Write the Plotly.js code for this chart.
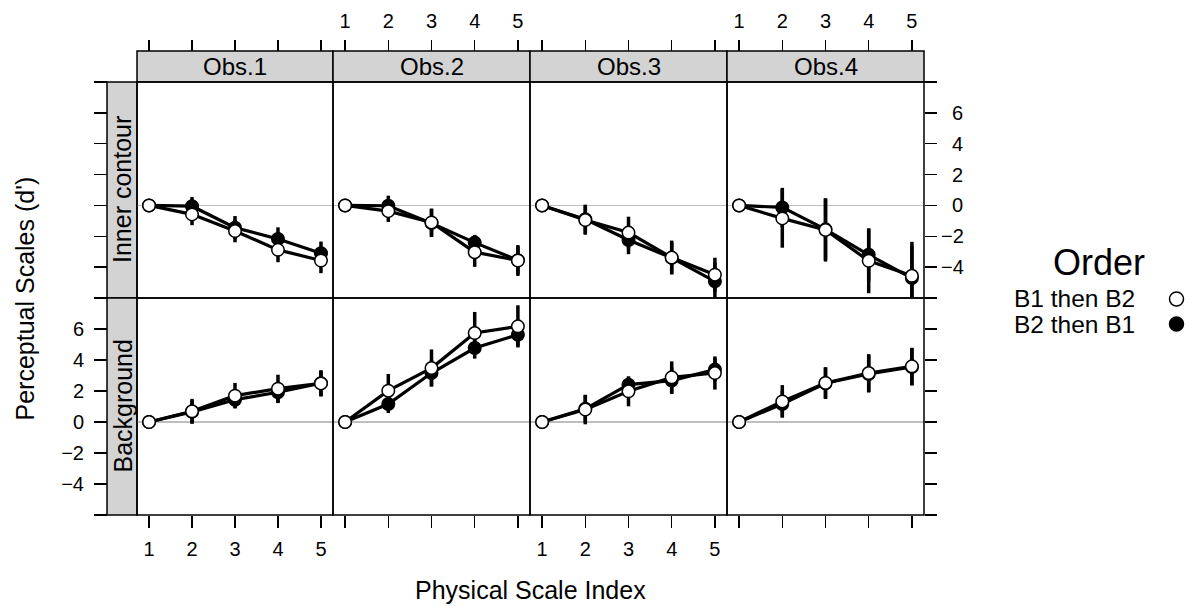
<!DOCTYPE html>
<html><head><meta charset="utf-8">
<script src="https://cdn.plot.ly/plotly-3.0.1.min.js"></script>
<style>html,body{margin:0;padding:0;background:#fff}</style>
</head><body><div id="chart" style="width:1192px;height:606px"></div>
<script>
// ---------- data ----------
const observers = ['Obs.1', 'Obs.2', 'Obs.3', 'Obs.4'];
const conditions = ['Inner contour', 'Background'];
const scaleIndex = [1, 2, 3, 4, 5];
const orderLabels = ['B1 then B2', 'B2 then B1'];
const legendTitle = 'Order';
const xTitle = 'Physical Scale Index';
const yTitle = "Perceptual Scales (d')";
const xTickVals = [1, 2, 3, 4, 5];
const xTickText = ['1', '2', '3', '4', '5'];
const yTickVals = [-6, -4, -2, 0, 2, 4, 6, 8];
const yTickText = ['', '\u22124', '\u22122', '0', '2', '4', '6', ''];
// right-hand labels are right-justified (figure space pads the positive ones)
const yTickTextRight = ['', '\u22124', '\u22122', '\u20070', '\u20072', '\u20074', '\u20076', ''];

// Inner contour, B1 then B2 (open), one row per observer
const innerB1B2 = [
  [0, -0.58, -1.66, -2.88, -3.57],
  [0, -0.37, -1.10, -3.03, -3.57],
  [0, -0.95, -1.76, -3.38, -4.49],
  [0, -0.84, -1.59, -3.59, -4.56]
];
const innerB1B2Err = [
  [0, 0.70, 0.73, 0.80, 0.82],
  [0, 0.70, 0.90, 0.95, 1.00],
  [0, 0.95, 1.03, 1.10, 1.10],
  [0, 1.90, 2.05, 2.10, 2.20]
];
// Inner contour, B2 then B1 (filled)
const innerB2B1 = [
  [0, -0.05, -1.44, -2.17, -3.10],
  [0, -0.02, -1.15, -2.41, -3.55],
  [0, -0.90, -2.24, -3.40, -4.92],
  [0, -0.13, -1.55, -3.20, -4.71]
];
const innerB2B1Err = [
  [0, 0.60, 0.75, 0.75, 0.76],
  [0, 0.65, 0.90, 0.50, 0.90],
  [0, 0.95, 0.92, 1.00, 1.20],
  [0, 1.27, 2.00, 1.70, 2.10]
];
// Background, B1 then B2 (open)
const bgB1B2 = [
  [0, 0.69, 1.70, 2.15, 2.49],
  [0, 2.02, 3.48, 5.74, 6.17],
  [0, 0.80, 1.98, 2.88, 3.16],
  [0, 1.33, 2.52, 3.16, 3.59]
];
const bgB1B2Err = [
  [0, 0.80, 0.82, 0.90, 0.85],
  [0, 1.08, 1.20, 1.36, 1.36],
  [0, 0.95, 0.97, 1.03, 1.07],
  [0, 1.05, 1.02, 1.22, 1.20]
];
// Background, B2 then B1 (filled)
const bgB2B1 = [
  [0, 0.65, 1.44, 1.92, 2.50],
  [0, 1.16, 3.16, 4.77, 5.63],
  [0, 0.85, 2.41, 2.67, 3.38],
  [0, 1.16, 2.50, 3.10, 3.55]
];
const bgB2B1Err = [
  [0, 0.75, 0.55, 0.70, 0.80],
  [0, 0.58, 0.85, 0.68, 0.75],
  [0, 0.90, 0.45, 0.86, 0.75],
  [0, 0.85, 1.00, 1.20, 1.20]
];

// ---------- geometry / style ----------
const W = 1192, H = 606;
const colEdges = [137, 333, 530, 727, 924];
const rowEdges = [82, 298, 515];
const stripTop = 51, stripLeft = 107;
const FONT = 'Liberation Sans, Arial, Helvetica, sans-serif';
const TICKFONT = { family: FONT, size: 20, color: '#000' };
const px = v => v / W;
const py = v => 1 - v / H;

const seriesByRow = [
  { open: innerB1B2, openErr: innerB1B2Err, filled: innerB2B1, filledErr: innerB2B1Err },
  { open: bgB1B2, openErr: bgB1B2Err, filled: bgB2B1, filledErr: bgB2B1Err }
];

const traces = [];
const layout = {
  width: W, height: H, autosize: false,
  margin: { l: 0, r: 0, t: 0, b: 0, pad: 0 },
  paper_bgcolor: '#fff', plot_bgcolor: 'rgba(0,0,0,0)',
  showlegend: false,
  font: { family: FONT, size: 20, color: '#000' },
  shapes: [], annotations: []
};

function makeTrace(xa, ya, y, err, fill) {
  return {
    type: 'scatter', mode: 'lines+markers', xaxis: xa, yaxis: ya,
    x: scaleIndex, y: y,
    line: { color: '#000', width: 3.2 },
    marker: { symbol: 'circle', size: 12.5, color: fill, line: { color: '#000', width: 1.5 } },
    error_y: { type: 'data', array: err, visible: true, color: '#000', thickness: 3.5, width: 0 },
    hoverinfo: 'skip', showlegend: false
  };
}

for (let r = 0; r < 2; r++) {
  for (let c = 0; c < 4; c++) {
    const n = r * 4 + c + 1;
    const xa = n === 1 ? 'x' : 'x' + n;
    const ya = n === 1 ? 'y' : 'y' + n;
    const xKey = n === 1 ? 'xaxis' : 'xaxis' + n;
    const yKey = n === 1 ? 'yaxis' : 'yaxis' + n;
    const s = seriesByRow[r];
    traces.push(makeTrace(xa, ya, s.filled[c], s.filledErr[c], '#000'));
    traces.push(makeTrace(xa, ya, s.open[c], s.openErr[c], '#fff'));

    const xAxis = {
      domain: [px(colEdges[c]), px(colEdges[c + 1])],
      range: [0.72, 5.28], fixedrange: true,
      tickmode: 'array', tickvals: xTickVals, ticktext: xTickText,
      ticks: 'outside', ticklen: 12, tickwidth: 1.5, tickcolor: '#000',
      showline: false, showgrid: false, zeroline: false,
      tickfont: TICKFONT, ticklabelstandoff: 4
    };
    if (r === 0) {
      xAxis.anchor = 'free'; xAxis.position = py(stripTop); xAxis.side = 'top';
      xAxis.ticklen = 11;
      xAxis.showticklabels = (c === 1 || c === 3);
    } else {
      xAxis.anchor = ya; xAxis.side = 'bottom';
      xAxis.showticklabels = (c === 0 || c === 2);
    }
    layout[xKey] = xAxis;

    const yAxis = {
      domain: [py(rowEdges[r + 1]), py(rowEdges[r])],
      range: [-6, 8], fixedrange: true,
      tickmode: 'array', tickvals: yTickVals, ticktext: yTickText,
      showline: false, showgrid: false,
      zeroline: true, zerolinecolor: '#bebebe', zerolinewidth: 1.5,
      tickfont: TICKFONT
    };
    if (c === 0) {
      Object.assign(yAxis, { anchor: 'free', position: px(stripLeft), side: 'left',
        ticks: 'outside', ticklen: 13, tickwidth: 1.5, tickcolor: '#000',
        ticklabelstandoff: 6, showticklabels: r === 1 });
    } else if (c === 3) {
      Object.assign(yAxis, { anchor: 'free', position: px(colEdges[4]), side: 'right',
        ticks: 'outside', ticklen: 12, tickwidth: 1.5, tickcolor: '#000',
        ticktext: yTickTextRight, ticklabelstandoff: 0, showticklabels: r === 0 });
    } else {
      Object.assign(yAxis, { anchor: xa, ticks: '', showticklabels: false });
    }
    layout[yKey] = yAxis;

    // panel border
    layout.shapes.push({ type: 'rect', xref: 'paper', yref: 'paper', layer: 'above',
      x0: px(colEdges[c]), x1: px(colEdges[c + 1]), y0: py(rowEdges[r + 1]), y1: py(rowEdges[r]),
      line: { color: '#000', width: 1.5 }, fillcolor: 'rgba(0,0,0,0)' });
  }
}

// top strips
for (let c = 0; c < 4; c++) {
  layout.shapes.push({ type: 'rect', xref: 'paper', yref: 'paper', layer: 'below',
    x0: px(colEdges[c]), x1: px(colEdges[c + 1]), y0: py(rowEdges[0]), y1: py(stripTop),
    line: { color: '#000', width: 1.5 }, fillcolor: '#d3d3d3' });
  layout.annotations.push({ xref: 'paper', yref: 'paper', showarrow: false,
    x: px((colEdges[c] + colEdges[c + 1]) / 2), y: py((stripTop + rowEdges[0]) / 2),
    xanchor: 'center', yanchor: 'middle', text: observers[c],
    font: { family: FONT, size: 24, color: '#000' } });
}
// left strips
for (let r = 0; r < 2; r++) {
  layout.shapes.push({ type: 'rect', xref: 'paper', yref: 'paper', layer: 'below',
    x0: px(stripLeft), x1: px(colEdges[0]), y0: py(rowEdges[r + 1]), y1: py(rowEdges[r]),
    line: { color: '#000', width: 1.5 }, fillcolor: '#d3d3d3' });
  layout.annotations.push({ xref: 'paper', yref: 'paper', showarrow: false,
    x: px((stripLeft + colEdges[0]) / 2), y: py((rowEdges[r] + rowEdges[r + 1]) / 2),
    xanchor: 'center', yanchor: 'middle', textangle: -90, text: conditions[r],
    font: { family: FONT, size: 25, color: '#000' } });
}
// axis titles
layout.annotations.push({ xref: 'paper', yref: 'paper', showarrow: false,
  x: px((colEdges[0] + colEdges[4]) / 2), y: py(590), xanchor: 'center', yanchor: 'middle',
  text: xTitle, font: { family: FONT, size: 25, color: '#000' } });
layout.annotations.push({ xref: 'paper', yref: 'paper', showarrow: false,
  x: px(24), y: py((rowEdges[0] + rowEdges[2]) / 2), xanchor: 'center', yanchor: 'middle',
  textangle: -90, text: yTitle, font: { family: FONT, size: 25, color: '#000' } });

// legend (key on the right)
layout.annotations.push({ xref: 'paper', yref: 'paper', showarrow: false,
  x: px(1099), y: py(262), xanchor: 'center', yanchor: 'middle',
  text: legendTitle, font: { family: FONT, size: 36, color: '#000' } });
const legendRows = [299, 324];
const legendFill = ['#fff', '#000'];
for (let i = 0; i < 2; i++) {
  layout.annotations.push({ xref: 'paper', yref: 'paper', showarrow: false,
    x: px(1012), y: py(legendRows[i]), xanchor: 'left', yanchor: 'middle',
    text: orderLabels[i], font: { family: FONT, size: 24.5, color: '#000' } });
  layout.shapes.push({ type: 'circle', xref: 'paper', yref: 'paper', layer: 'above',
    x0: px(1176.5 - 7), x1: px(1176.5 + 7), y0: py(legendRows[i] + 7), y1: py(legendRows[i] - 7),
    line: { color: '#000', width: 1.5 }, fillcolor: legendFill[i] });
}

Plotly.newPlot('chart', traces, layout, { staticPlot: true, displayModeBar: false });
</script></body></html>
